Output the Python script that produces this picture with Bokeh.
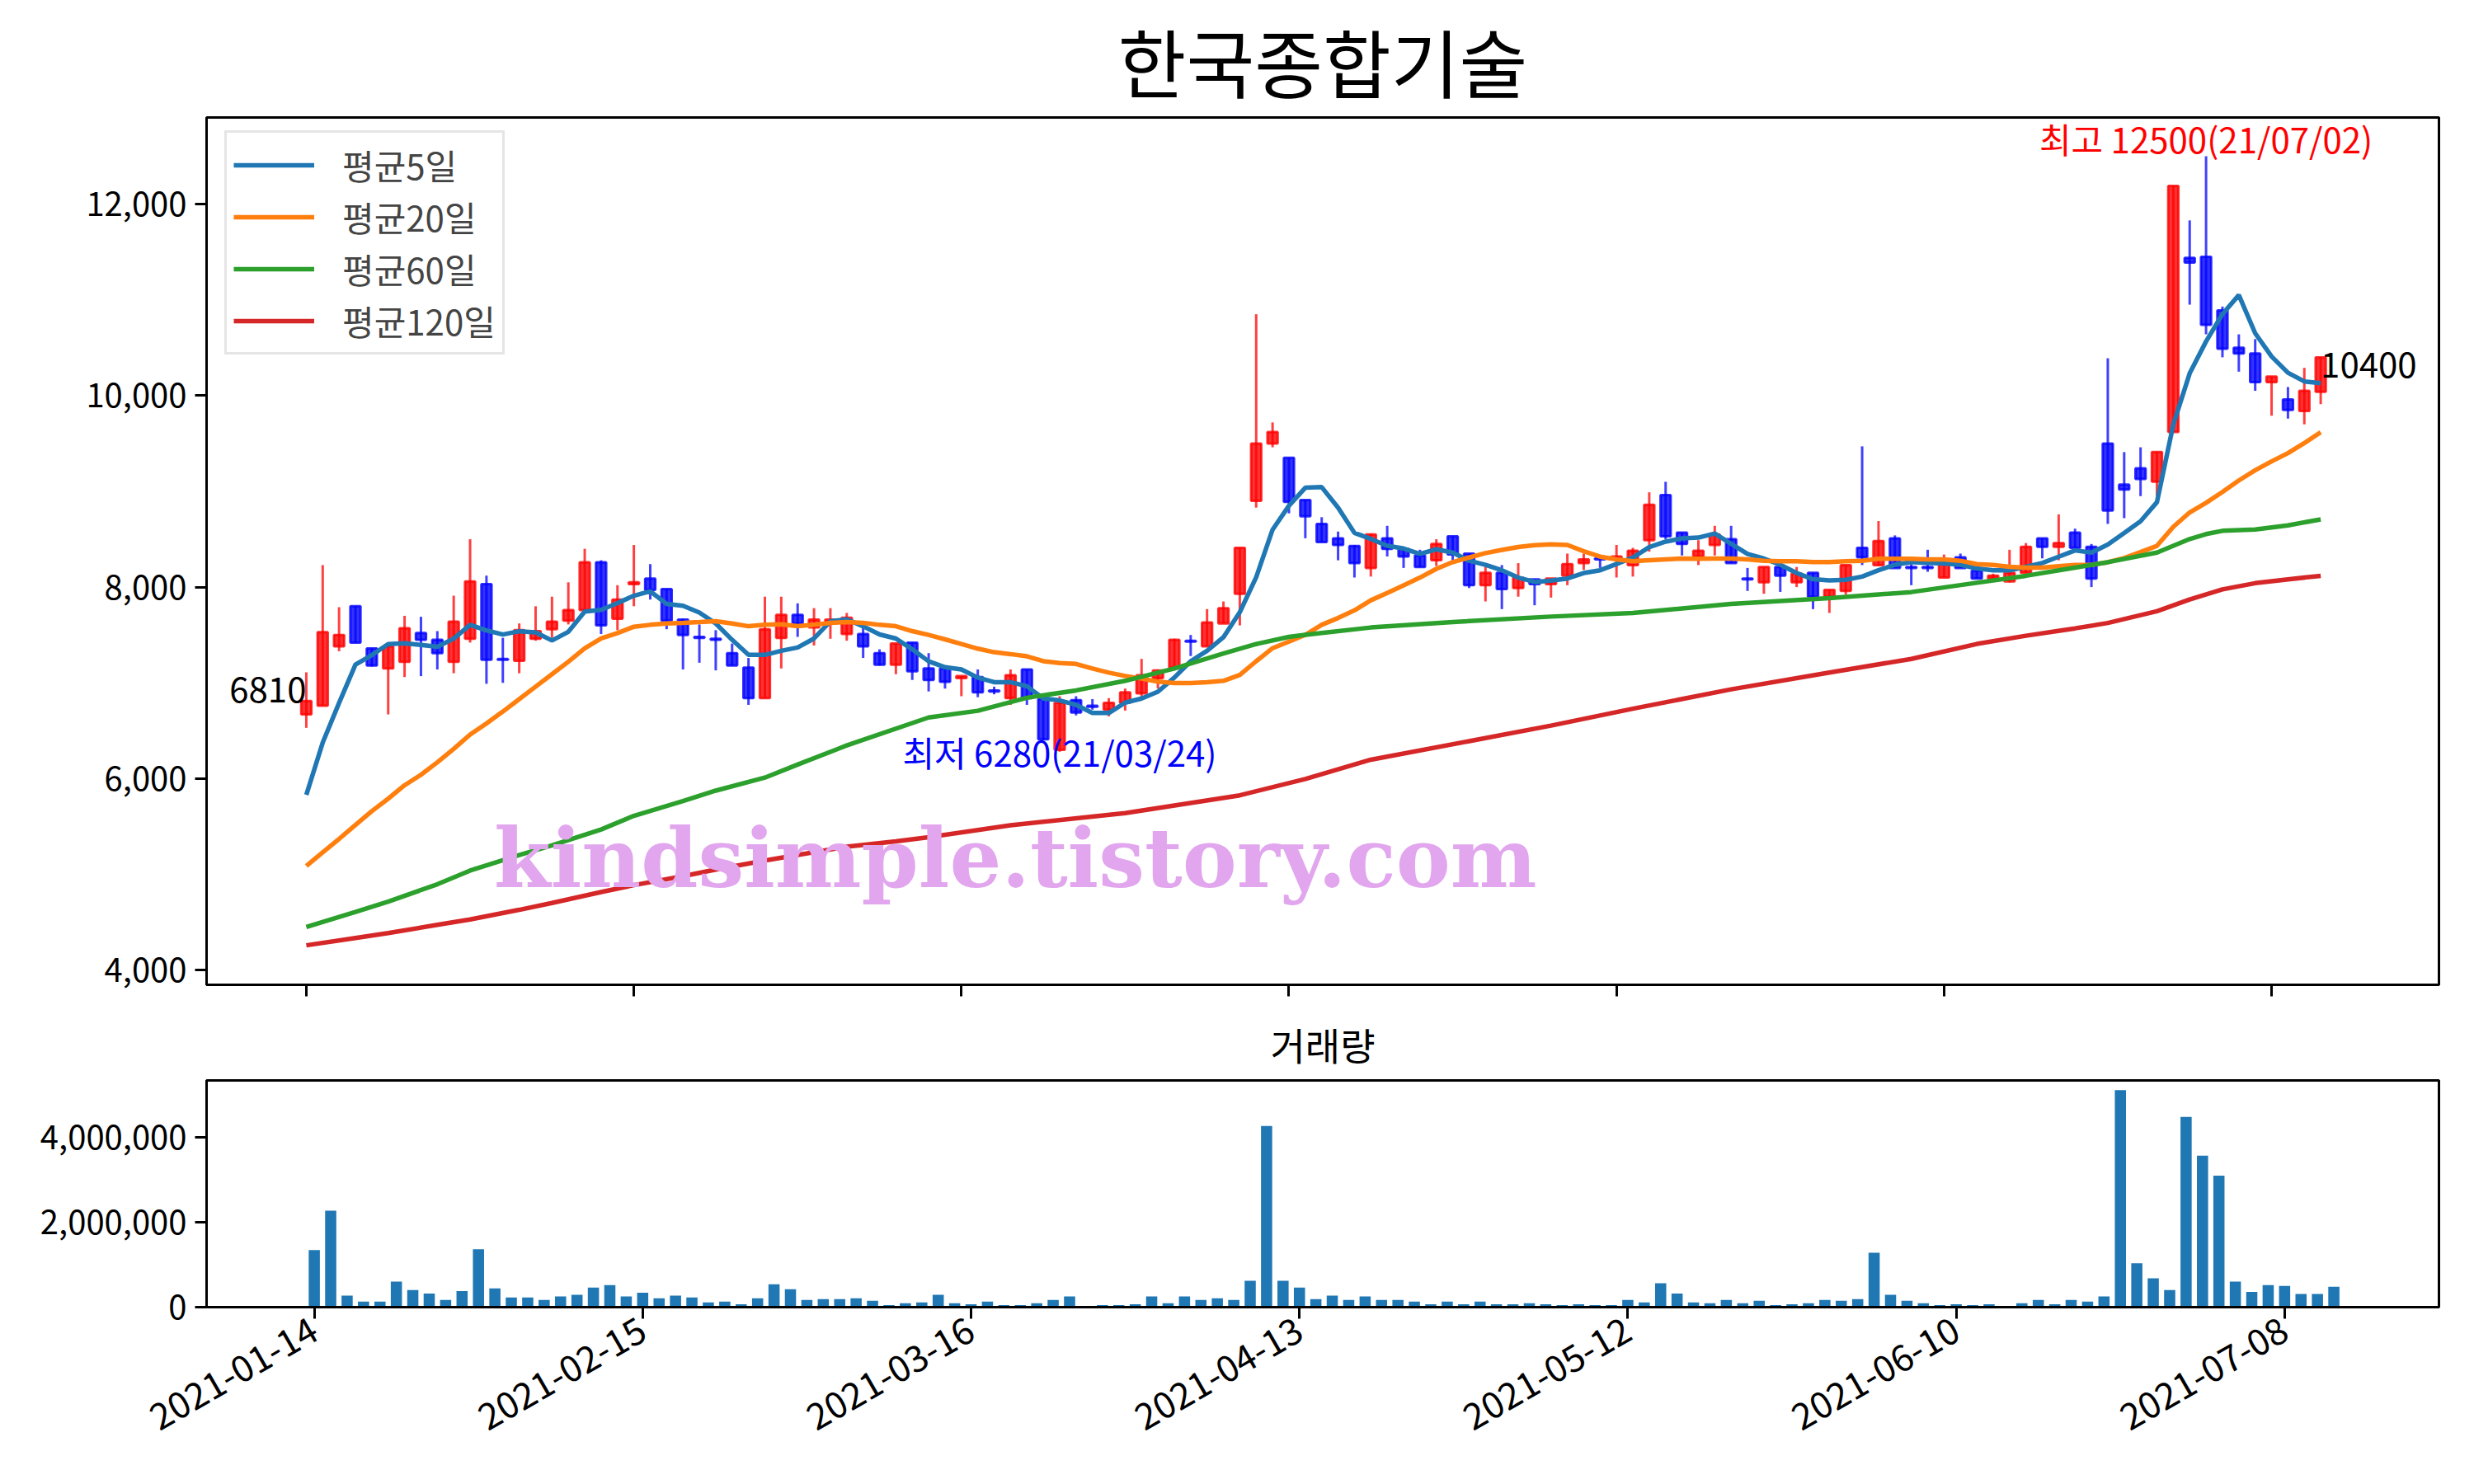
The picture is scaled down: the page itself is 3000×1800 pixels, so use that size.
import math
from bokeh.plotting import figure
from bokeh.layouts import column
from bokeh.models import (ColumnDataSource, FixedTicker, NumeralTickFormatter,
                          Label, Legend, LegendItem, Range1d)
from bokeh.embed import file_html
from bokeh.resources import INLINE

KR = "Noto Sans CJK KR"

# =========================
# DATA
# =========================
title = "한국종합기술"

open_ = [6670, 6760, 7380, 7800, 7360, 7150, 7220, 7520, 7450, 7220,
         7460, 8030, 7250, 7230, 7460, 7560, 7650, 7760, 8260, 7670,
         8030, 8090, 7980, 7660, 7480, 7460, 7310, 7160, 6840, 7470,
         7710, 7580, 7640, 7510, 7510, 7310, 7190, 7420, 7150, 7150,
         7050, 7060, 6920, 6840, 7140, 6830, 6300, 6820, 6760, 6720,
         6790, 6890, 7050, 7160, 7440, 7380, 7620, 7930, 8900, 9500,
         9350, 8910, 8660, 8510, 8430, 8200, 8510, 8400, 8330, 8280,
         8530, 8350, 8020, 8150, 7990, 8080, 8030, 8120, 8250, 8300,
         8300, 8230, 8490, 8960, 8570, 8320, 8440, 8500, 8090, 8050,
         8210, 8050, 8150, 7900, 7960, 8410, 8230, 8510, 8210, 8210,
         8100, 8310, 8170, 8090, 8060, 8150, 8510, 8420, 8570, 8420,
         9500, 9070, 9240, 9100, 9620, 11440, 11450, 10890, 10500, 10440,
         10140, 9960, 9840, 10040]
high = [7110, 8230, 7790, 7800, 7360, 7380, 7700, 7690, 7540, 7910,
        8500, 8120, 7470, 7620, 7800, 7900, 8050, 8400, 8280, 8020,
        8440, 8240, 7980, 7670, 7610, 7550, 7410, 7260, 7900, 7900,
        7830, 7780, 7780, 7730, 7580, 7350, 7410, 7420, 7310, 7150,
        7070, 7140, 6960, 7140, 7140, 6830, 6860, 6860, 6830, 6840,
        6940, 7250, 7140, 7460, 7500, 7770, 7850, 8410, 10850, 9720,
        9350, 8910, 8730, 8580, 8440, 8560, 8640, 8400, 8390, 8500,
        8530, 8350, 8210, 8230, 8250, 8080, 8090, 8350, 8350, 8300,
        8440, 8410, 8990, 9100, 8570, 8490, 8640, 8640, 8200, 8210,
        8210, 8210, 8150, 7970, 8230, 9470, 8690, 8540, 8280, 8390,
        8340, 8350, 8170, 8140, 8390, 8460, 8510, 8760, 8610, 8450,
        10390, 9410, 9460, 9410, 12190, 11830, 12500, 10930, 10640, 10590,
        10200, 10090, 10290, 10400]
low = [6530, 6760, 7330, 7420, 7170, 6670, 7060, 7070, 7140, 7100,
       7420, 6990, 7000, 7100, 7440, 7470, 7610, 7760, 7510, 7550,
       7800, 7870, 7560, 7140, 7210, 7130, 7180, 6770, 6840, 7150,
       7480, 7390, 7460, 7440, 7260, 7180, 7090, 7030, 6910, 6940,
       6860, 6850, 6880, 6770, 6770, 6400, 6280, 6660, 6720, 6650,
       6710, 6850, 6940, 7160, 7280, 7380, 7620, 7600, 8830, 9460,
       8770, 8510, 8470, 8280, 8100, 8110, 8320, 8200, 8210, 8220,
       8280, 7990, 7850, 7770, 7900, 7810, 7890, 8020, 8180, 8200,
       8100, 8110, 8370, 8500, 8330, 8230, 8330, 8250, 7960, 7930,
       7950, 8000, 7770, 7730, 7920, 8230, 8230, 8200, 8020, 8160,
       8100, 8200, 8090, 8090, 8050, 8150, 8300, 8280, 8410, 8000,
       8660, 8720, 8950, 8950, 9620, 10950, 10640, 10400, 10250, 10050,
       9790, 9760, 9700, 9910]
close = [6810, 7530, 7500, 7420, 7180, 7380, 7570, 7450, 7310, 7640,
         8060, 7240, 7240, 7550, 7540, 7640, 7760, 8260, 7600, 7870,
         8050, 7970, 7650, 7500, 7470, 7450, 7180, 6840, 7560, 7710,
         7620, 7660, 7660, 7680, 7380, 7190, 7410, 7120, 7030, 7010,
         7070, 6900, 6910, 7080, 6840, 6410, 6790, 6690, 6750, 6790,
         6900, 7080, 7130, 7450, 7430, 7630, 7780, 8410, 9500, 9620,
         8890, 8740, 8470, 8440, 8250, 8550, 8400, 8320, 8210, 8450,
         8340, 8020, 8150, 7980, 8100, 8030, 8090, 8240, 8290, 8290,
         8320, 8380, 8860, 8530, 8450, 8380, 8550, 8250, 8080, 8210,
         8120, 8140, 7900, 7970, 8230, 8310, 8480, 8200, 8200, 8200,
         8250, 8200, 8090, 8120, 8150, 8420, 8420, 8460, 8410, 8090,
         8800, 9020, 9130, 9410, 12190, 11390, 10740, 10490, 10440, 10140,
         10200, 9850, 10050, 10400]
volume = [1340000, 2270000, 270000, 130000, 130000, 600000, 400000, 320000, 170000, 380000,
          1360000, 440000, 230000, 230000, 170000, 250000, 290000, 460000, 520000, 250000,
          340000, 210000, 270000, 230000, 110000, 130000, 70000, 210000, 540000, 420000,
          170000, 190000, 190000, 210000, 150000, 50000, 90000, 110000, 290000, 90000,
          70000, 130000, 50000, 50000, 90000, 170000, 250000, 20000, 50000, 50000,
          70000, 250000, 90000, 250000, 170000, 210000, 170000, 620000, 4260000, 620000,
          460000, 190000, 270000, 170000, 250000, 170000, 170000, 130000, 70000, 130000,
          70000, 130000, 70000, 70000, 90000, 70000, 50000, 70000, 50000, 50000,
          170000, 110000, 560000, 320000, 110000, 90000, 170000, 90000, 150000, 50000,
          70000, 90000, 170000, 150000, 190000, 1280000, 290000, 150000, 90000, 50000,
          70000, 50000, 70000, 30000, 90000, 170000, 70000, 170000, 130000, 250000,
          5100000, 1030000, 680000, 400000, 4470000, 3560000, 3090000, 600000, 360000, 520000,
          500000, 310000, 310000, 480000]

ma5 = [5830, 6375, 6790, 7190, 7290, 7405, 7413, 7396, 7376, 7462,
       7605, 7548, 7505, 7539, 7528, 7442, 7533, 7745, 7762, 7833,
       7910, 7956, 7825, 7805, 7734, 7620, 7449, 7292, 7292, 7335,
       7369, 7463, 7643, 7663, 7591, 7506, 7463, 7350, 7225, 7163,
       7140, 7055, 7007, 7007, 6964, 6836, 6816, 6770, 6685, 6685,
       6793, 6836, 6907, 7055, 7226, 7334, 7476, 7738, 8103, 8600,
       8850, 9038, 9044, 8830, 8566, 8503, 8432, 8403, 8346, 8395,
       8361, 8275, 8233, 8176, 8099, 8053, 8067, 8090, 8147, 8176,
       8241, 8309, 8418, 8475, 8509, 8517, 8560, 8452, 8346, 8298,
       8233, 8147, 8082, 8070, 8076, 8110, 8176, 8233, 8261, 8252,
       8247, 8233, 8195, 8175, 8175, 8212, 8252, 8317, 8383, 8360,
       8445, 8565, 8687, 8887, 9698, 10233, 10566, 10851, 11050, 10651,
       10409, 10239, 10148, 10130]
ma20 = [5087, 5230, 5370, 5516, 5660, 5790, 5930, 6040, 6170, 6310,
        6460, 6575, 6700, 6830, 6960, 7090, 7220, 7360, 7463, 7520,
        7586, 7606, 7620, 7626, 7634, 7643, 7620, 7591, 7606, 7611,
        7591, 7606, 7626, 7634, 7626, 7606, 7591, 7540, 7500, 7454,
        7405, 7357, 7320, 7300, 7277, 7226, 7206, 7197, 7149, 7106,
        7072, 7044, 7012, 6998, 6998, 7007, 7021, 7083, 7226, 7362,
        7430, 7501, 7606, 7677, 7757, 7862, 7939, 8019, 8099, 8190,
        8261, 8309, 8355, 8389, 8418, 8438, 8446, 8440, 8375, 8318,
        8290, 8270, 8281, 8290, 8298, 8295, 8298, 8298, 8290, 8275,
        8270, 8270, 8261, 8261, 8270, 8275, 8295, 8295, 8295, 8290,
        8290, 8275, 8240, 8232, 8212, 8203, 8203, 8218, 8232, 8232,
        8260, 8303, 8366, 8431, 8630, 8780, 8880, 8993, 9114, 9220,
        9313, 9399, 9504, 9618]
ma60_x = [0, 3, 5, 8, 10, 13, 15, 18, 20, 23, 25, 28, 30, 33, 38, 41, 44, 47,
          50, 53, 56, 58, 60, 61, 65, 70, 76, 81, 87, 93, 98, 102, 105, 108,
          110, 113, 114, 115, 116, 117, 119, 121, 123]
ma60 = [4449, 4607, 4715, 4896, 5039, 5202, 5302, 5468, 5611, 5765, 5874, 6010,
        6146, 6346, 6638, 6708, 6844, 6921, 7021, 7149, 7306, 7405, 7480, 7501,
        7578, 7635, 7692, 7730, 7825, 7885, 7948, 8045, 8118, 8203, 8260, 8360,
        8431, 8502, 8554, 8588, 8602, 8645, 8707]
ma120_x = [0, 3, 5, 8, 10, 13, 15, 18, 20, 23, 25, 28, 30, 33, 36, 38, 43, 50,
           57, 61, 65, 71, 76, 81, 87, 93, 98, 102, 105, 108, 110, 113, 115,
           117, 119, 121, 123]
ma120 = [4258, 4335, 4386, 4472, 4529, 4629, 4701, 4815, 4887, 4981, 5050, 5144,
         5202, 5288, 5345, 5388, 5512, 5640, 5825, 5996, 6197, 6391, 6553, 6730,
         6932, 7108, 7250, 7406, 7492, 7569, 7625, 7748, 7870, 7976, 8041, 8081,
         8118]

tick_pos = [0, 20, 40, 60, 80, 100, 120]
tick_labels = ["2021-01-14", "2021-02-15", "2021-03-16", "2021-04-13",
               "2021-05-12", "2021-06-10", "2021-07-08"]

hi_text = "최고 12500(21/07/02)"
lo_text = "최저 6280(21/03/24)"
watermark = "kindsimple.tistory.com"

# =========================
# SOURCES
# =========================
idx = list(range(len(close)))


def candle_source(up):
    sel = [i for i in idx if (close[i] >= open_[i]) == up]
    return ColumnDataSource(dict(
        x=sel,
        top=[max(open_[i], close[i]) for i in sel],
        bottom=[min(open_[i], close[i]) for i in sel],
        high=[high[i] for i in sel],
        low=[low[i] for i in sel],
    ))


src_up = candle_source(True)
src_dn = candle_source(False)


def style_axes(p):
    p.xgrid.visible = False
    p.ygrid.visible = False
    p.outline_line_color = "black"
    p.outline_line_width = 3
    p.outline_line_alpha = 1
    p.axis.axis_line_width = 3
    p.axis.axis_line_color = "black"
    p.axis.major_tick_line_width = 3
    p.axis.major_tick_out = 14
    p.axis.major_tick_in = 0
    p.axis.minor_tick_line_color = None
    p.axis.major_label_text_font = KR
    p.axis.major_label_text_font_size = "40px"
    p.axis.major_label_text_color = "black"
    p.axis.major_label_standoff = 10
    p.title.align = "center"
    p.title.text_font = KR
    p.title.text_font_style = "normal"
    p.title.text_color = "black"


# =========================
# PRICE CHART
# =========================
p = figure(width=2984, height=1218,
           x_range=Range1d(-6.09, 130.22), y_range=Range1d(3846, 12905),
           output_backend="svg", toolbar_location=None,
           min_border_left=250, min_border_right=27,
           min_border_top=137, min_border_bottom=24,
           title=title)
style_axes(p)
p.title.text_font_size = "90px"
p.title.standoff = 10

for src, col in ((src_up, "#ff0000"), (src_dn, "#0000ff")):
    p.segment(x0="x", y0="high", x1="x", y1="low", source=src,
              line_color=col, line_alpha=0.75, line_width=3)
    p.vbar(x="x", width=0.62, top="top", bottom="bottom", source=src,
           fill_color=col, fill_alpha=0.8, line_color=col, line_alpha=0.8,
           line_width=3)

r5 = p.line(idx, ma5, line_color="#1f77b4", line_width=5.5)
r20 = p.line(idx, ma20, line_color="#ff7f0e", line_width=5.5)
r60 = p.line(ma60_x, ma60, line_color="#2ca02c", line_width=5.5)
r120 = p.line(ma120_x, ma120, line_color="#d62728", line_width=5.5)

legend = Legend(items=[LegendItem(label="평균5일", renderers=[r5]),
                       LegendItem(label="평균20일", renderers=[r20]),
                       LegendItem(label="평균60일", renderers=[r60]),
                       LegendItem(label="평균120일", renderers=[r120])],
                location=(22, 764))
legend.margin = 0
legend.padding = 8
legend.spacing = 2
legend.glyph_width = 98
legend.glyph_height = 40
legend.label_standoff = 34
legend.label_text_font = KR
legend.label_text_font_size = "42px"
legend.border_line_color = "#cccccc"
legend.border_line_width = 3
legend.background_fill_alpha = 0.8
p.add_layout(legend)

# shared date axis: ticks only on the price chart
p.xaxis.ticker = FixedTicker(ticks=tick_pos)
p.xaxis.major_label_overrides = {t: "" for t in tick_pos}
p.xaxis.major_label_text_font_size = "2px"
p.xaxis.major_label_standoff = 0
p.yaxis.ticker = FixedTicker(ticks=[4000, 6000, 8000, 10000, 12000])
p.yaxis.formatter = NumeralTickFormatter(format="0,0")

# annotations
hi_i = max(idx, key=lambda i: high[i])
lo_i = min(idx, key=lambda i: low[i])
p.add_layout(Label(x=hi_i, y=high[hi_i], text=hi_text, text_align="center",
                   text_baseline="middle", text_color="red", text_font=KR,
                   text_font_size="42px", y_offset=22))
p.add_layout(Label(x=lo_i, y=low[lo_i], text=lo_text, text_align="center",
                   text_baseline="middle", text_color="blue", text_font=KR,
                   text_font_size="42px", y_offset=0))
p.add_layout(Label(x=idx[0], y=close[0], text=str(close[0]), text_align="right",
                   text_baseline="middle", text_color="black", text_font=KR,
                   text_font_size="42px", y_offset=14))
p.add_layout(Label(x=idx[-1], y=close[-1], text=str(close[-1]), text_align="left",
                   text_baseline="top", text_color="black", text_font=KR,
                   text_font_size="42px", y_offset=6))
p.add_layout(Label(x=43.3, y=5170, text=watermark, text_align="center",
                   text_baseline="alphabetic", text_color="#e2a6ee",
                   text_font="DejaVu Serif", text_font_style="bold",
                   text_font_size="99px"))

# =========================
# VOLUME CHART
# =========================
v = figure(width=2984, height=566,
           x_range=Range1d(-6.56, 129.4), y_range=Range1d(0, 5330000),
           output_backend="svg", toolbar_location=None,
           min_border_left=250, min_border_right=27,
           min_border_top=84, min_border_bottom=199,
           title="거래량")
style_axes(v)
v.title.text_font_size = "46px"
v.title.standoff = 24
v.vbar(x=idx, top=volume, width=0.68, fill_color="#1f77b4", line_color=None)
v.xaxis.ticker = FixedTicker(ticks=tick_pos)
v.xaxis.major_label_overrides = {t: s for t, s in zip(tick_pos, tick_labels)}
v.xaxis.major_label_orientation = math.pi / 6
v.xaxis.major_label_text_font_size = "44px"
v.yaxis.ticker = FixedTicker(ticks=[0, 2000000, 4000000])
v.yaxis.formatter = NumeralTickFormatter(format="0,0")

layout = column(p, v, spacing=0)
open("out.html", "w").write(file_html(layout, INLINE))
